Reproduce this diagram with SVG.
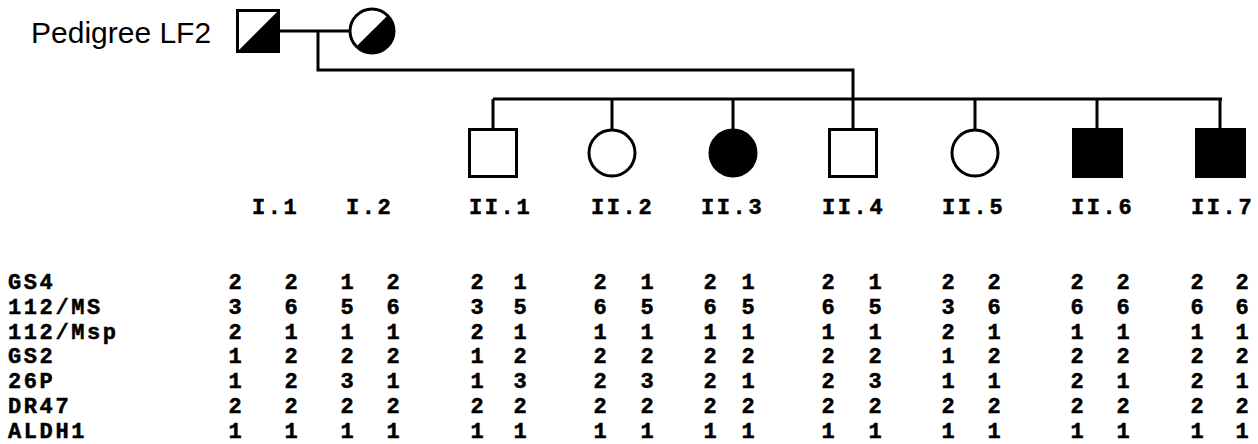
<svg xmlns="http://www.w3.org/2000/svg" width="1258" height="444" viewBox="0 0 1258 444">
<style>
.ln{stroke:#000;stroke-width:3;fill:none}
.sym{stroke:#000;stroke-width:3;fill:#fff}
.aff{stroke:#000;stroke-width:3;fill:#000}
.title{font-family:"Liberation Sans",Arial,sans-serif;font-size:30px;fill:#000}
.lab{font-family:"Liberation Mono","Courier New",monospace;font-weight:bold;font-size:22px;letter-spacing:2.6px;fill:#000;stroke:#000;stroke-width:0.5}
.num{font-family:"Liberation Mono","Courier New",monospace;font-weight:bold;font-size:22px;text-anchor:middle;fill:#000;stroke:#000;stroke-width:0.5}
</style>
<rect width="1258" height="444" fill="#fff"/>
<text class="title" x="31" y="43">Pedigree LF2</text>
<g id="connectors">
<path class="ln" d="M279 31H350"/>
<path class="ln" d="M318 31V70H853V129"/>
<path class="ln" d="M493 99H1222"/>
<path class="ln" d="M493 99V129M612 99V130M733 99V130M975 99V130M1097 99V129M1220 99V129"/>
</g>
<g id="I1">
<rect class="sym" x="237.5" y="10.5" width="41" height="41"/>
<polygon points="237.5,51.5 278.5,10.5 278.5,51.5" fill="#000"/>
<text class="lab" x="252" y="214">I.1</text>
</g>
<g id="I2">
<circle class="sym" cx="372" cy="31" r="22"/>
<path d="M356.44 46.56L387.56 15.44A22 22 0 0 1 356.44 46.56Z" fill="#000"/>
<text class="lab" x="346" y="214">I.2</text>
</g>
<g id="II1">
<rect class="sym" x="469.5" y="129.5" width="47" height="47"/>
<text class="lab" x="469" y="214">II.1</text>
</g>
<g id="II2">
<circle class="sym" cx="612" cy="153" r="23"/>
<text class="lab" x="591" y="214">II.2</text>
</g>
<g id="II3">
<circle class="aff" cx="733" cy="153" r="23"/>
<text class="lab" x="701" y="214">II.3</text>
</g>
<g id="II4">
<rect class="sym" x="829.5" y="129.5" width="47" height="47"/>
<text class="lab" x="822" y="214">II.4</text>
</g>
<g id="II5">
<circle class="sym" cx="975" cy="153" r="23"/>
<text class="lab" x="942" y="214">II.5</text>
</g>
<g id="II6">
<rect class="aff" x="1073.5" y="129.5" width="48" height="47"/>
<text class="lab" x="1071" y="214">II.6</text>
</g>
<g id="II7">
<rect class="aff" x="1196.5" y="129.5" width="48" height="47"/>
<text class="lab" x="1191" y="214">II.7</text>
</g>
<g id="table">
<text class="lab" x="8" y="289">GS4</text>
<text class="lab" x="8" y="313.8">112/MS</text>
<text class="lab" x="8" y="338.6">112/Msp</text>
<text class="lab" x="8" y="363.4">GS2</text>
<text class="lab" x="8" y="388.2">26P</text>
<text class="lab" x="8" y="413">DR47</text>
<text class="lab" x="8" y="437.8">ALDH1</text>
<text class="num" y="289" x="235 291 347 393 477 520 600 647 710 748 828 875 948 994 1077 1123 1197 1242">221221212121222222</text>
<text class="num" y="313.8" x="235 291 347 393 477 520 600 647 710 748 828 875 948 994 1077 1123 1197 1242">365635656565366666</text>
<text class="num" y="338.6" x="235 291 347 393 477 520 600 647 710 748 828 875 948 994 1077 1123 1197 1242">211121111111211111</text>
<text class="num" y="363.4" x="235 291 347 393 477 520 600 647 710 748 828 875 948 994 1077 1123 1197 1242">122212222222122222</text>
<text class="num" y="388.2" x="235 291 347 393 477 520 600 647 710 748 828 875 948 994 1077 1123 1197 1242">123113232123112121</text>
<text class="num" y="413" x="235 291 347 393 477 520 600 647 710 748 828 875 948 994 1077 1123 1197 1242">222222222222222222</text>
<text class="num" y="437.8" x="235 291 347 393 477 520 600 647 710 748 828 875 948 994 1077 1123 1197 1242">111111111111111111</text>
</g>
</svg>
